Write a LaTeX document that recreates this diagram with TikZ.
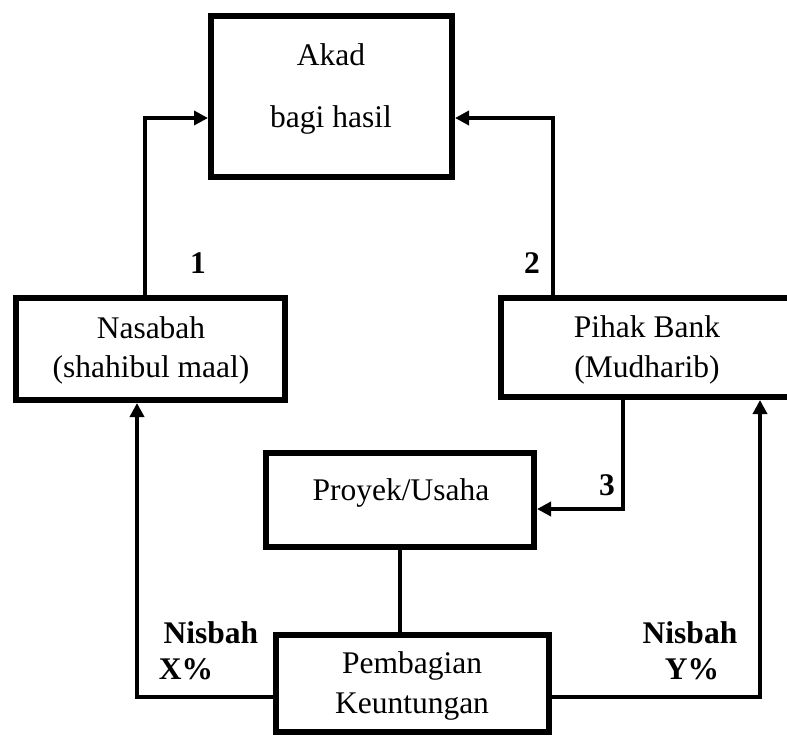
\documentclass[tikz,border=0pt]{standalone}
\usepackage{fontspec}
\setmainfont{Liberation Serif}
\usetikzlibrary{arrows.meta,calc}
\begin{document}
\begin{tikzpicture}[x=1pt,y=-1pt,
  box/.style={draw,line width=6pt,rectangle,inner sep=0pt},
  txt/.style={anchor=base,inner sep=0pt,font=\fontsize{31.5}{37}\selectfont},
  lbl/.style={anchor=base,inner sep=0pt,font=\fontsize{31.5}{37}\selectfont\bfseries},
  conn/.style={line width=3.5pt},
  arr/.style={conn,-{Triangle[length=14pt,width=14pt]}}]
\useasboundingbox (0,0) rectangle (787,737);
% boxes
\node[box,minimum width=241pt,minimum height=161pt] (akad) at (331.5,96.5) {};
\node[box,minimum width=269pt,minimum height=102pt] (nas) at (150.5,349) {};
\node[box,minimum width=293pt,minimum height=99pt] (bank) at (647,347.5) {};
\node[box,minimum width=268pt,minimum height=94pt] (proyek) at (400,500) {};
\node[box,minimum width=273pt,minimum height=97pt] (pemb) at (412.5,683.5) {};
% texts
\node[txt] (t1) at (331,65) {Akad};
\node[txt] (t2) at (331,127) {bagi hasil};
\node[txt] (t3) at (151,338) {Nasabah};
\node[txt] (t4) at (151,377) {(shahibul maal)};
\node[txt] (t5) at (647,337) {Pihak Bank};
\node[txt] (t6) at (647,377) {(Mudharib)};
\node[txt] (t7) at (401,500) {Proyek/Usaha};
\node[txt] (t8) at (412,673) {Pembagian};
\node[txt] (t9) at (412,713) {Keuntungan};
% labels
\node[lbl] (l1) at (198,273) {1};
\node[lbl] (l2) at (532,273) {2};
\node[lbl] (l3) at (607,495) {3};
\node[lbl] (l4) at (211,643) {Nisbah};
\node[lbl] (l5) at (186,679) {X\%};
\node[lbl] (l6) at (690,643) {Nisbah};
\node[lbl] (l7) at (692,679) {Y\%};
% connector bends
\coordinate (c1) at (145,118);
\coordinate (c2) at (553,118);
\coordinate (c3) at (623,509);
\coordinate (c4) at (137,697);
\coordinate (c5) at (760,697);
% connectors
\draw[arr] (c1 |- nas.north) |- (akad.west |- c1);
\draw[arr] (c2 |- bank.north) |- (akad.east |- c2);
\draw[arr] (c3 |- bank.south) |- (proyek.east |- c3);
\draw[conn] (proyek.south) -- (proyek.south |- pemb.north);
\draw[arr] (pemb.west |- c4) -| (nas.south -| c4);
\draw[arr] (pemb.east |- c5) -| (bank.south -| c5);
\end{tikzpicture}
\end{document}
